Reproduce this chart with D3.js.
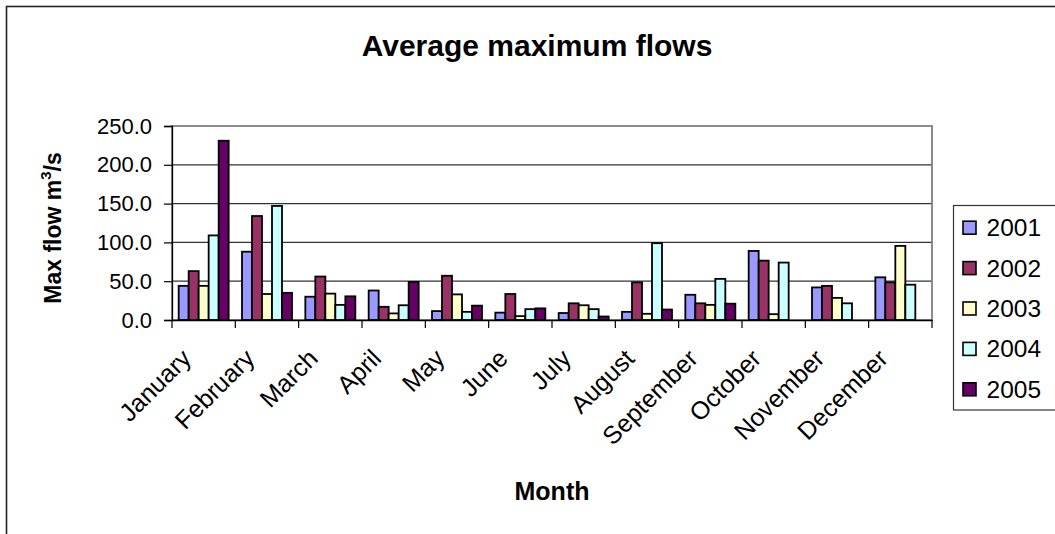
<!DOCTYPE html>
<html>
<head>
<meta charset="utf-8">
<script src="https://cdn.jsdelivr.net/npm/d3@7"></script>
<style>
  html, body { margin: 0; padding: 0; background: #fff; }
  svg { display: block; font-family: Arial, "Liberation Sans", Helvetica, sans-serif; }
</style>
</head>
<body>
<svg id="chart" width="1055" height="534"></svg>
<script>
const months = ["January","February","March","April","May","June","July","August","September","October","November","December"];
const years = ["2001","2002","2003","2004","2005"];
const colors = ["#9999FF","#993366","#FFFFCC","#CCFFFF","#660066"];
const v2001 = [44, 88, 30, 38, 11.5, 9.5, 9, 10.5, 32.5, 89, 42, 55];
const v2002 = [63, 134, 56, 17, 57, 33.5, 21.5, 48.5, 21.5, 76.5, 44, 48.5];
const v2003 = [44, 33.5, 34, 8.5, 33, 5, 19, 8, 19.5, 7.5, 28.5, 95.5];
const v2004 = [109, 147, 19.5, 19, 10.5, 14, 14, 99, 53, 74, 21.5, 45.5];
const v2005 = [231, 35, 30.5, 49, 18.5, 15, 4.5, 13.5, 21, null, null, null];
const yTicks = [0, 50, 100, 150, 200, 250];
const seriesValues = [v2001, v2002, v2003, v2004, v2005];

const svg = d3.select("#chart");

// outer chart border (extends beyond picture on right/bottom)
svg.append("rect").attr("x", 6.5).attr("y", 6.5).attr("width", 1100).attr("height", 600)
  .attr("fill", "#fff").attr("stroke", "#222").attr("stroke-width", 1.6);

const pLeft = 172, pRight = 932, pTop = 126, pBottom = 320;

const x = d3.scaleBand().domain(months).range([pLeft, pRight]).padding(0);
const xs = d3.scaleBand().domain(years).range([0, x.bandwidth()]).paddingInner(0).paddingOuter(0.6667);
const y = d3.scaleLinear().domain([0, 250]).range([pBottom, pTop]);

// gridlines
svg.append("g").selectAll("line").data(yTicks.filter(t => t > 0 && t < 250)).join("line")
  .attr("x1", pLeft).attr("x2", pRight)
  .attr("y1", d => y(d)).attr("y2", d => y(d))
  .attr("stroke", "#333").attr("stroke-width", 1.2);

// plot area border (top & right gray)
svg.append("rect").attr("x", pLeft).attr("y", pTop).attr("width", pRight - pLeft).attr("height", pBottom - pTop)
  .attr("fill", "none").attr("stroke", "#808080").attr("stroke-width", 1.8);

// bars
const bars = svg.append("g");
years.forEach((yr, i) => {
  bars.append("g").selectAll("rect")
    .data(months.map((m, j) => ({ m, v: seriesValues[i][j] })).filter(d => d.v != null && d.v > 0))
    .join("rect")
    .attr("x", d => x(d.m) + xs(yr))
    .attr("y", d => y(d.v))
    .attr("width", xs.bandwidth())
    .attr("height", d => y(0) - y(d.v))
    .attr("fill", colors[i])
    .attr("stroke", "#000")
    .attr("stroke-width", 1.8);
});

// y axis
const yAxis = svg.append("g").attr("transform", `translate(${pLeft},0)`)
  .call(d3.axisLeft(y).tickValues(yTicks).tickSize(8).tickPadding(12).tickFormat(d3.format(".1f")));
yAxis.select(".domain").attr("stroke", "#000").attr("stroke-width", 1.3);
yAxis.selectAll(".tick line").attr("stroke", "#000").attr("stroke-width", 1.2);
yAxis.selectAll(".tick text").attr("font-size", 22).attr("fill", "#000")
  .attr("font-family", "Arial, 'Liberation Sans', sans-serif");

// x axis
const xAxis = svg.append("g").attr("transform", `translate(0,${pBottom})`)
  .call(d3.axisBottom(x).tickSize(0).tickFormat(""));
xAxis.select(".domain").attr("stroke", "#000").attr("stroke-width", 1.3);
svg.append("g").selectAll("line").data(d3.range(months.length + 1)).join("line")
  .attr("x1", i => pLeft + i * x.step()).attr("x2", i => pLeft + i * x.step())
  .attr("y1", pBottom).attr("y2", pBottom + 8)
  .attr("stroke", "#000").attr("stroke-width", 1.2);

svg.append("g").selectAll("text").data(months).join("text")
  .attr("transform", d => `translate(${x(d) + x.bandwidth() / 2 - 11},${pBottom + 40}) rotate(-45)`)
  .attr("text-anchor", "end")
  .attr("font-size", 25)
  .attr("fill", "#000")
  .text(d => d);

// title
svg.append("text").attr("x", 537).attr("y", 56).attr("text-anchor", "middle")
  .attr("font-size", 30).attr("font-weight", "bold").text("Average maximum flows");

// axis titles
svg.append("text").attr("x", 552).attr("y", 500).attr("text-anchor", "middle")
  .attr("font-size", 25).attr("font-weight", "bold").text("Month");

const yt = svg.append("text").attr("transform", "translate(61,228) rotate(-90)")
  .attr("text-anchor", "middle").attr("font-size", 23).attr("font-weight", "bold");
yt.append("tspan").text("Max flow m");
yt.append("tspan").attr("font-size", 15).attr("dy", -10).text("3");
yt.append("tspan").attr("dy", 10).text("/s");

// legend
svg.append("rect").attr("x", 953.5).attr("y", 205.5).attr("width", 200).attr("height", 204.5)
  .attr("fill", "#fff").attr("stroke", "#333").attr("stroke-width", 1.2);
const lg = svg.append("g").selectAll("g").data(years).join("g")
  .attr("transform", (d, i) => `translate(963,${227.7 + i * 40.4})`);
lg.append("rect").attr("x", 0).attr("y", -6.5).attr("width", 13).attr("height", 13)
  .attr("fill", (d, i) => colors[i]).attr("stroke", "#000").attr("stroke-width", 1.6);
lg.append("text").attr("x", 23.5).attr("y", 8.5).attr("font-size", 24.5).text(d => d);
</script>
</body>
</html>
